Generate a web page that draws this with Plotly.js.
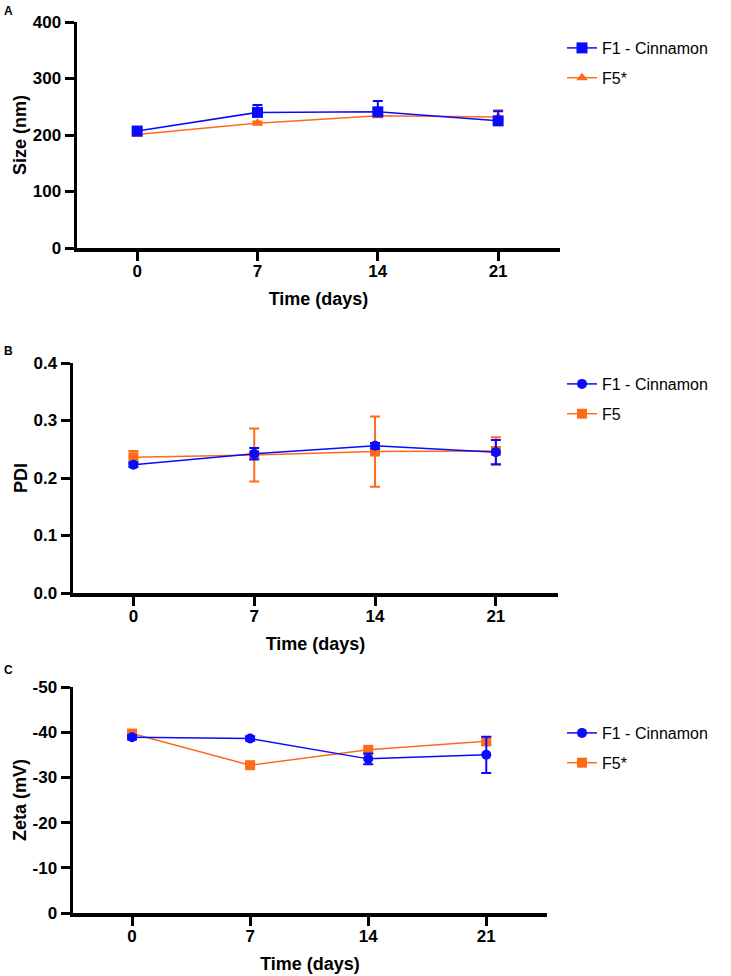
<!DOCTYPE html>
<html>
<head>
<meta charset="utf-8">
<script src="https://cdn.plot.ly/plotly-3.0.1.min.js"></script>
<style>html,body{margin:0;padding:0;background:#fff;}#chart{width:731px;height:976px;}</style>
</head>
<body>
<div id="chart"></div>
<script>
// ---- data ----
const days = [0, 7, 14, 21];
const xTickVals = [0, 7, 14, 21];
const xTickText = ['0', '7', '14', '21'];

const seriesNames = ['F1 - Cinnamon', 'F5*', 'F5'];

// Panel A: Size (nm)
const sizeF1 = [207, 240, 241, 225];
const sizeF1Err = [3, 13, 19, 17];
const sizeF5 = [201, 221, 234, 232];
const sizeF5Err = [3, 3, 4, 12];

// Panel B: PDI
const pdiF1 = [0.223, 0.242, 0.256, 0.245];
const pdiF1Err = [0.004, 0.010, 0.005, 0.021];
const pdiF5 = [0.236, 0.240, 0.246, 0.247];
const pdiF5Err = [0.011, 0.046, 0.061, 0.024];

// Panel C: Zeta (mV)
const zetaF1 = [-38.9, -38.6, -34.1, -35.0];
const zetaF1Err = [0.5, 0.5, 1.2, 4.0];
const zetaF5 = [-39.7, -32.7, -36.1, -38.0];
const zetaF5Err = [0.5, 0.5, 0.8, 0.9];

const sizeTicks = [0, 100, 200, 300, 400];
const sizeTickText = ['0', '100', '200', '300', '400'];
const pdiTicks = [0, 0.1, 0.2, 0.3, 0.4];
const pdiTickText = ['0.0', '0.1', '0.2', '0.3', '0.4'];
const zetaTicks = [0, -10, -20, -30, -40, -50];
const zetaTickText = ['0', '-10', '-20', '-30', '-40', '-50'];

// ---- styles ----
const BLUE = '#0a0aff';
const ORANGE = '#ff6a1a';
const FONT = 'Liberation Sans, Arial, sans-serif';
const W = 731, H = 976;

function mk(x, y, err, upOnly, name, color, symbol, size, xa, ya, legend, group, rank) {
  const e = {type: 'data', array: err, color: color, thickness: 2, width: 5, visible: true};
  if (upOnly) { e.symmetric = false; e.arrayminus = err.map(() => 0); }
  return {
    x: x, y: y, name: name, type: 'scatter', mode: 'lines+markers',
    line: {color: color, width: 1.5},
    marker: {color: color, symbol: symbol, size: size},
    error_y: e, xaxis: xa, yaxis: ya, legend: legend, legendgroup: group, legendrank: rank
  };
}

// orange drawn first so blue sits on top, legend order via legendrank
const traces = [
  mk(days, sizeF5, sizeF5Err, true, seriesNames[1], ORANGE, 'triangle-up', 10, 'x', 'y', 'legend', 'a2', 2),
  mk(days, sizeF1, sizeF1Err, true, seriesNames[0], BLUE, 'square', 11, 'x', 'y', 'legend', 'a1', 1),
  mk(days, pdiF5, pdiF5Err, false, seriesNames[2], ORANGE, 'square', 10, 'x2', 'y2', 'legend2', 'b2', 2),
  mk(days, pdiF1, pdiF1Err, false, seriesNames[0], BLUE, 'circle', 10, 'x2', 'y2', 'legend2', 'b1', 1),
  mk(days, zetaF5, zetaF5Err, false, seriesNames[1], ORANGE, 'square', 10, 'x3', 'y3', 'legend3', 'c2', 2),
  mk(days, zetaF1, zetaF1Err, false, seriesNames[0], BLUE, 'circle', 10, 'x3', 'y3', 'legend3', 'c1', 1)
];

function px(x) { return x / W; }
function py(y) { return 1 - y / H; }

const tickFont = {family: FONT, size: 17, color: '#000', weight: 'bold'};
const titleFont = {family: FONT, size: 18, color: '#000', weight: 'bold'};

function xAxis(d0, d1, anchor) {
  return {
    domain: [px(d0), px(d1)], anchor: anchor, range: [-3.5, 24.6],
    tickmode: 'array', tickvals: xTickVals, ticktext: xTickText,
    showline: true, linecolor: '#000', linewidth: 3.5,
    ticks: 'outside', ticklen: 9, tickwidth: 3, tickcolor: '#000',
    ticklabelstandoff: -4,
    showgrid: false, zeroline: false, tickfont: tickFont,
    title: {text: 'Time (days)', font: titleFont, standoff: 13},
    automargin: false, fixedrange: true
  };
}
function yAxis(top, bottom, anchor, range, tv, tt, title) {
  return {
    domain: [py(bottom), py(top)], anchor: anchor, range: range,
    tickmode: 'array', tickvals: tv, ticktext: tt,
    showline: true, linecolor: '#000', linewidth: 3.5,
    ticks: 'outside', ticklen: 9, tickwidth: 3, tickcolor: '#000',
    showgrid: false, zeroline: false, tickfont: tickFont,
    title: {text: title, font: titleFont, standoff: 2},
    automargin: false, fixedrange: true
  };
}

function legendAt(topY) {
  return {
    x: px(562), xanchor: 'left', y: py(topY), yanchor: 'top',
    font: {family: FONT, size: 16, color: '#000'},
    bgcolor: 'rgba(0,0,0,0)', borderwidth: 0,
    traceorder: 'grouped', tracegroupgap: 6, itemclick: false
  };
}

const layout = {
  width: W, height: H,
  margin: {l: 0, r: 0, t: 0, b: 0},
  paper_bgcolor: '#fff', plot_bgcolor: '#fff',
  showlegend: true,
  xaxis: xAxis(77, 560, 'y'),
  yaxis: yAxis(22, 248, 'x', [0, 400], sizeTicks, sizeTickText, 'Size (nm)'),
  xaxis2: xAxis(73, 558, 'y2'),
  yaxis2: yAxis(363, 593, 'x2', [0, 0.4], pdiTicks, pdiTickText, 'PDI'),
  xaxis3: xAxis(73, 547, 'y3'),
  yaxis3: yAxis(687, 913, 'x3', [0, -50], zetaTicks, zetaTickText, 'Zeta (mV)'),
  legend: legendAt(31),
  legend2: legendAt(367),
  legend3: legendAt(716),
  annotations: [
    {text: 'A', x: px(2), y: py(2), xref: 'paper', yref: 'paper', xanchor: 'left', yanchor: 'top', showarrow: false, font: {family: FONT, size: 12, weight: 'bold', color: '#000'}},
    {text: 'B', x: px(2), y: py(342), xref: 'paper', yref: 'paper', xanchor: 'left', yanchor: 'top', showarrow: false, font: {family: FONT, size: 12, weight: 'bold', color: '#000'}},
    {text: 'C', x: px(2), y: py(661), xref: 'paper', yref: 'paper', xanchor: 'left', yanchor: 'top', showarrow: false, font: {family: FONT, size: 12, weight: 'bold', color: '#000'}}
  ]
};

Plotly.newPlot('chart', traces, layout, {displayModeBar: false, staticPlot: true});
</script>
</body>
</html>
